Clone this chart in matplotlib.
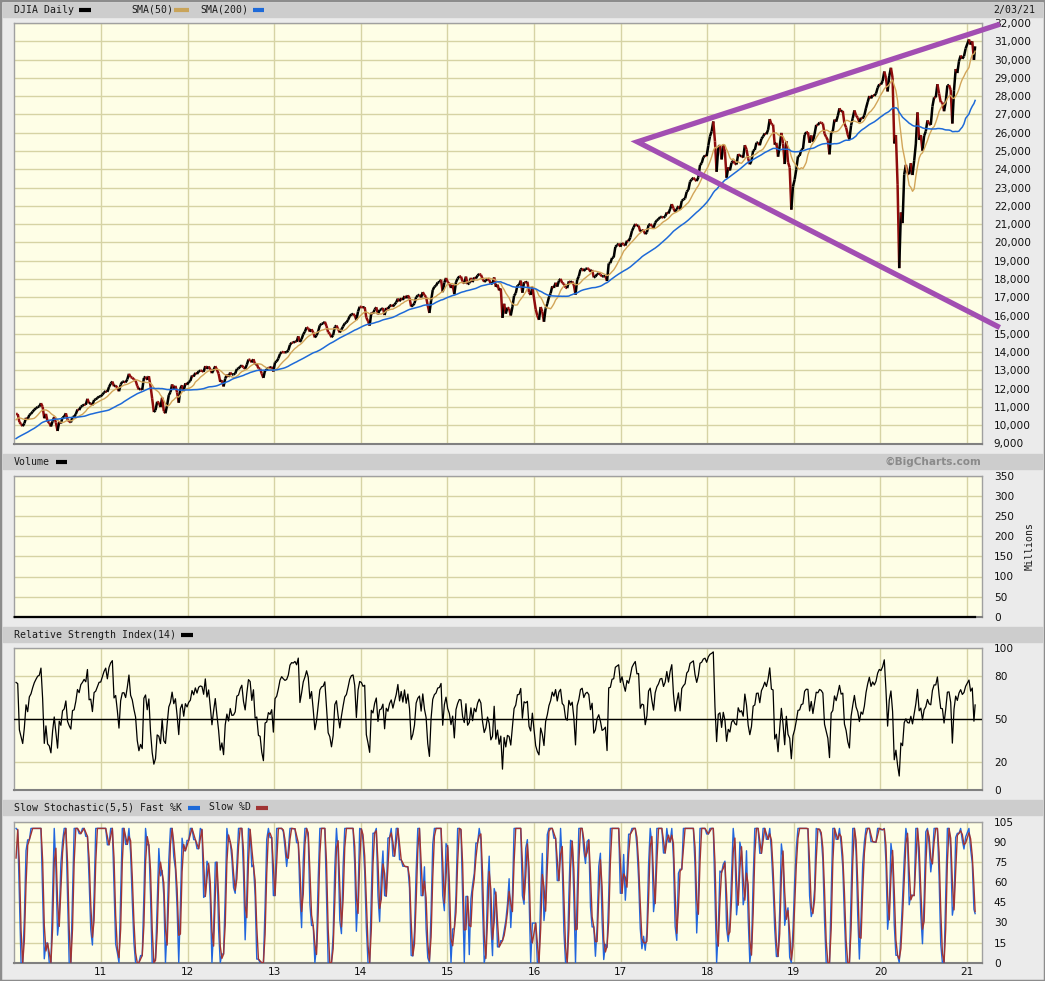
import numpy as np
import pandas as pd
import matplotlib
matplotlib.use("Agg")
import matplotlib.pyplot as plt
from matplotlib.collections import LineCollection
from matplotlib.lines import Line2D
from matplotlib.patches import Rectangle

# ---------------- DATA: weekly DJIA closes (read / estimated) ----------------
close_2009 = [6627, 7224, 7278, 7776, 8018, 8083, 8131, 8076, 8212, 8575, 8268, 8278, 8500,
              8764, 8799, 8540, 8439, 8280, 8146, 8743, 9093, 9172, 9370, 9321, 9505, 9544,
              9441, 9605, 9820, 9665, 9488, 9865, 9996, 9972, 9713, 10023, 10270, 10318, 10310,
              10389, 10471, 10329, 10520]
close_2010 = [10618, 10610, 10173, 10067, 9950, 10099, 10402, 10325, 10566, 10625, 10742, 10850,
              10927, 10997, 11019, 11204, 11009, 10380, 10620, 10193, 10137, 9931, 10212, 10450, 10144,
              9686, 10198, 10097, 10424, 10466, 10654, 10303, 10213, 10150, 10448, 10462, 10607, 10860,
              10829, 11006, 11063, 11133, 11118, 11445, 11193, 11204, 11092, 11382, 11410, 11492, 11573, 11578]
close_2011 = [11674, 11787, 11871, 11823, 12092, 12273, 12391, 12130, 12169, 12044, 11858, 12220,
              12376, 12380, 12342, 12505, 12811, 12638, 12596, 12512, 12441, 12151, 11952, 12004, 11934,
              12582, 12657, 12480, 12681, 12143, 11444, 10720, 10818, 11285, 11240, 10992, 11509, 10771,
              10655, 11103, 11644, 11809, 12231, 11983, 12153, 11796, 11231, 12019, 12184, 11867, 12294, 12218]
close_2012 = [12360, 12422, 12720, 12660, 12862, 12801, 12950, 12983, 12978, 12922, 13233, 13081, 13212,
              13060, 12850, 13029, 13228, 13038, 12821, 12369, 12455, 12119, 12554, 12767, 12640, 12880,
              12772, 12777, 12822, 13075, 13096, 13207, 13275, 13157, 13090, 13306, 13593, 13579, 13437,
              13610, 13328, 13343, 13107, 13093, 12815, 12588, 13010, 13026, 13155, 13135, 13190, 12938]
close_2013 = [13435, 13488, 13650, 13896, 14010, 13993, 13982, 14001, 14090, 14397, 14515, 14513, 14579,
              14565, 14865, 14547, 14713, 14974, 15118, 15354, 15303, 15116, 15248, 15070, 14800, 14910,
              15136, 15464, 15544, 15559, 15659, 15425, 15081, 15010, 14810, 14922, 15376, 15452, 15258,
              15073, 15237, 15400, 15570, 15615, 15762, 15962, 16065, 16086, 16020, 15755, 16221, 16479]
close_2014 = [16470, 16437, 16459, 15880, 15699, 15450, 16154, 16104, 16322, 16453, 16066, 16303, 16323,
              16413, 16027, 16409, 16361, 16513, 16584, 16492, 16606, 16717, 16924, 16776, 16948, 16851,
              17068, 16944, 17100, 16961, 16493, 16554, 16663, 17001, 17098, 17138, 16988, 17280, 17113,
              17010, 16544, 16140, 16805, 17391, 17573, 17634, 17810, 17828, 17958, 17280, 17805, 18053]
close_2015 = [17833, 17737, 17511, 17673, 17165, 17825, 18019, 18141, 18133, 17857, 17749, 18128, 17713,
              17763, 18058, 17827, 18080, 18025, 18191, 18273, 18232, 18011, 17849, 17898, 18016, 17947,
              17730, 17760, 18086, 17568, 17690, 17373, 17477, 15871, 16643, 16102, 16433, 16385, 16001,
              16472, 17084, 17216, 17647, 17664, 17910, 17245, 17824, 17799, 17848, 17265, 17128, 17553]
close_2016 = [16346, 15988, 15766, 16466, 16205, 15660, 16392, 16640, 17006, 17213, 17602, 17515,
              17793, 17577, 17897, 18004, 17774, 17740, 17535, 17500, 17873, 17807, 17865, 17675, 17140,
              17949, 18147, 18517, 18571, 18432, 18544, 18577, 18553, 18395, 18492, 18085, 18124, 18262, 18308,
              18240, 18138, 18146, 18161, 17888, 18848, 18868, 19153, 19171, 19757, 19843, 19934, 19763]
close_2017 = [19964, 19886, 19827, 20094, 20071, 20269, 20624, 20822, 21005, 20903, 20915, 20597, 20663,
              20656, 20453, 20548, 20941, 21007, 20897, 20805, 21080, 21206, 21272, 21384, 21395, 21350,
              21415, 21638, 21580, 21830, 22093, 21858, 21675, 21814, 21988, 21798, 22268, 22350, 22405,
              22774, 22871, 23329, 23434, 23539, 23422, 23358, 23558, 24232, 24329, 24652, 24754, 24719]
close_2018 = [25296, 25803, 26072, 26617, 25521, 23860, 25219, 25310, 24538, 25336, 24947, 23533, 24103,
              23933, 24360, 24463, 24311, 24263, 24831, 24715, 24753, 24635, 25317, 25090, 24580, 24271,
              24456, 25019, 25058, 25451, 25463, 25313, 25669, 25790, 25965, 25917, 26154, 26744, 26458,
              26447, 25340, 25444, 24688, 25270, 25989, 25413, 24286, 25538, 24389, 24101, 21792, 23062]
close_2019 = [23433, 23996, 24706, 24737, 25064, 25106, 25883, 26031, 26026, 25450, 25849, 25502, 25929,
              26425, 26412, 26559, 26543, 26505, 25942, 25764, 25586, 24815, 25984, 26090, 26719, 26600,
              26922, 27332, 27154, 27192, 26485, 26287, 25886, 25629, 26403, 26797, 27220, 26935, 26820,
              26573, 26817, 26770, 26958, 27347, 27681, 28005, 27876, 28051, 28015, 28135, 28455, 28645]
close_2020 = [28635, 28824, 29348, 28990, 28256, 29103, 29551, 28992, 25409, 25865, 23186, 18592, 21637,
              21053, 23719, 24242, 23775, 23724, 24331, 23685, 24465, 25383, 27111, 25606, 25871, 25016,
              25827, 26075, 26672, 26470, 26428, 27433, 27931, 27930, 28654, 28133, 27666, 27657, 27174,
              27683, 28586, 28606, 28336, 26502, 28323, 29480, 29263, 29910, 30218, 30046, 30179, 30606]
close_2021 = [31098, 30814, 30997, 29983, 30724]

volume_millions = [0.0, 0.0]          # no volume reported for the index
end_date = "2021-02-03"

# trend-line annotation (date, price)
trend_apex = ("2017-03-12", 25500)
trend_upper_end = ("2021-05-08", 31890)
trend_lower_end = ("2021-05-08", 15410)

year_ticks = list(range(2011, 2022))
year_labels = [f"{y % 100:02d}" for y in year_ticks]

# ---------------- build series ----------------
def first_friday(year):
    d = pd.Timestamp(f"{year}-01-02")
    while d.weekday() != 4:
        d += pd.Timedelta(days=1)
    return d

parts = []
parts.append(pd.Series(close_2009, index=pd.date_range("2009-03-06", periods=len(close_2009), freq="7D")))
for yr, vals in [(2010, close_2010), (2011, close_2011), (2012, close_2012), (2013, close_2013),
                 (2014, close_2014), (2015, close_2015), (2016, close_2016), (2017, close_2017),
                 (2018, close_2018), (2019, close_2019), (2020, close_2020), (2021, close_2021)]:
    parts.append(pd.Series(vals, index=pd.date_range(first_friday(yr), periods=len(vals), freq="7D")))
close = pd.concat(parts).astype(float)
idx = list(close.index)
idx[-1] = pd.Timestamp(end_date)
close.index = pd.DatetimeIndex(idx)

sma50 = close.rolling(10).mean()
sma200 = close.rolling(40).mean()

# RSI (Wilder) on weekly closes
P = 6
delta = close.diff()
gain = delta.clip(lower=0).ewm(alpha=1 / P, adjust=False).mean()
loss = (-delta.clip(upper=0)).ewm(alpha=1 / P, adjust=False).mean()
rsi = 100 - 100 / (1 + gain / loss)

# Slow stochastic on weekly closes
N = 4
lo = close.rolling(N).min()
hi = close.rolling(N).max()
raw_k = 100 * (close - lo) / (hi - lo)
fast_k = raw_k.rolling(2).mean()
slow_d = fast_k.rolling(2).mean()

start = pd.Timestamp("2010-01-04")
m = close.index >= start
c = close[m]
dates = c.index

# ---------------- figure ----------------
W, H = 1045, 981
fig = plt.figure(figsize=(W / 100, H / 100), dpi=100, facecolor="#ebebeb")

BG = "#fefee6"
GRID = "#d6d3a4"
MONO = "DejaVu Sans Mono"
HFS = 7.1
TFS = 7.6

def fx(x):
    return x / W

def fy(y):
    return 1 - y / H

def add_ax(top, bottom, left=14.4, right=982):
    ax = fig.add_axes([fx(left), fy(bottom), (right - left) / W, (bottom - top) / H])
    ax.set_facecolor(BG)
    for s in ax.spines.values():
        s.set_color("#a0a0a0")
        s.set_linewidth(1)
    ax.spines["bottom"].set_color("#808080")
    ax.spines["bottom"].set_linewidth(1.5)
    ax.yaxis.tick_right()
    ax.tick_params(axis="y", length=0, pad=8.5, labelsize=TFS, colors="#111111")
    ax.tick_params(axis="x", length=0, pad=3, labelsize=TFS, colors="#111111")
    ax.set_xlim(pd.Timestamp("2010-01-01"), pd.Timestamp("2021-03-04"))
    ax.set_xticks([pd.Timestamp(f"{y}-01-01") for y in year_ticks])
    ax.set_xticklabels([])
    ax.grid(True, color=GRID, lw=1)
    ax.set_axisbelow(True)
    return ax

def set_yt(ax, ticks, labels):
    ax.set_yticks(ticks)
    ax.set_yticklabels(labels)
    for lab in ax.get_yticklabels():
        lab.set_horizontalalignment("left")

def header(y0, y1):
    fig.patches.append(Rectangle((fx(3), fy(y1)), (1042 - 3) / W, (y1 - y0) / H,
                                 transform=fig.transFigure, color="#cdcdcd", zorder=0))

def htext(x, y, s, **kw):
    fig.text(fx(x), fy(y), s, fontsize=HFS, family=MONO, va="center", ha="left", color="#1a1a1a", **kw)

def swatch(x0, x1, y, color):
    fig.add_artist(Line2D([fx(x0), fx(x1)], [fy(y), fy(y)], lw=3, color=color,
                          transform=fig.transFigure, solid_capstyle="butt"))

# headers
header(3, 17)
header(454, 469)
header(627, 642)
header(800, 815)

htext(14, 10, "DJIA Daily")
swatch(79, 91, 10, "#000000")
htext(131, 10, "SMA(50)")
swatch(174, 189, 10, "#c9a45a")
htext(200, 10, "SMA(200)")
swatch(253, 264, 10, "#1e6ad8")
htext(993, 10, "2/03/21")

htext(14, 461.5, "Volume")
swatch(56, 67, 461.5, "#000000")
fig.text(fx(981), fy(461.5), "\u00a9BigCharts.com", fontsize=7.6, family="DejaVu Sans",
         fontweight="bold", color="#8a8a8a", ha="right", va="center")

htext(14, 634.5, "Relative Strength Index(14)")
swatch(181, 193, 634.5, "#000000")

htext(14, 807.5, "Slow Stochastic(5,5) Fast %K")
swatch(188, 200, 807.5, "#1e6ad8")
htext(209, 807.5, "Slow %D")
swatch(256, 268, 807.5, "#a03434")

# ---------------- price panel ----------------
axp = add_ax(23, 443.5)
axp.set_ylim(9000, 32000)
yt = list(range(9000, 32001, 1000))
set_yt(axp, yt, [f"{v:,}" for v in yt])

xn = matplotlib.dates.date2num(dates.to_pydatetime())
vals = c.values
segs = [[(xn[i], vals[i]), (xn[i + 1], vals[i + 1])] for i in range(len(vals) - 1)]
cols = ["#000000" if vals[i + 1] >= vals[i] else "#8e0c0c" for i in range(len(vals) - 1)]
axp.add_collection(LineCollection(segs, colors=cols, linewidths=1.8, zorder=3))
axp.plot(dates, sma50[m].values, color="#d2a559", lw=1.0, zorder=4)
axp.plot(dates, sma200[m].values, color="#1e6ad8", lw=1.1, zorder=4)

tx = [pd.Timestamp(trend_upper_end[0]), pd.Timestamp(trend_apex[0]), pd.Timestamp(trend_lower_end[0])]
ty = [trend_upper_end[1], trend_apex[1], trend_lower_end[1]]
axp.plot(tx, ty, color="#a24eb2", lw=3.8, clip_on=False, zorder=6, solid_joinstyle="miter")

# ---------------- volume panel ----------------
axv = add_ax(476, 616.7)
axv.set_ylim(0, 350)
vt = list(range(0, 351, 50))
set_yt(axv, vt, [str(v) for v in vt])
axv.plot([start, pd.Timestamp(end_date)], volume_millions, color="#000000", lw=1.6, zorder=3, clip_on=False)
fig.text(fx(1030), fy(546), "Millions", rotation=90, fontsize=HFS, family=MONO, va="center", ha="center",
         color="#1a1a1a")

# ---------------- RSI panel ----------------
axr = add_ax(648, 790)
axr.set_ylim(0, 100)
set_yt(axr, [0, 20, 50, 80, 100], ["0", "20", "50", "80", "100"])
axr.axhline(50, color="#000000", lw=1.0, zorder=3)
axr.plot(dates, rsi[m].values, color="#000000", lw=0.9, zorder=4)

# ---------------- Stochastic panel ----------------
axs = add_ax(821.7, 962.7)
axs.set_ylim(0, 105)
st = list(range(0, 106, 15))
set_yt(axs, st, [str(v) for v in st])
axs.plot(dates, fast_k[m].values, color="#2266dd", lw=1.0, zorder=3)
axs.plot(dates, slow_d[m].values, color="#a03434", lw=1.0, zorder=4)
axs.set_xticklabels(year_labels)

# figure border
fig.patches.append(Rectangle((0, 0), 1, 1, transform=fig.transFigure, fill=False,
                             edgecolor="#8c8c8c", lw=2.5, zorder=10))

fig.savefig("out.png", dpi=100, facecolor=fig.get_facecolor())
